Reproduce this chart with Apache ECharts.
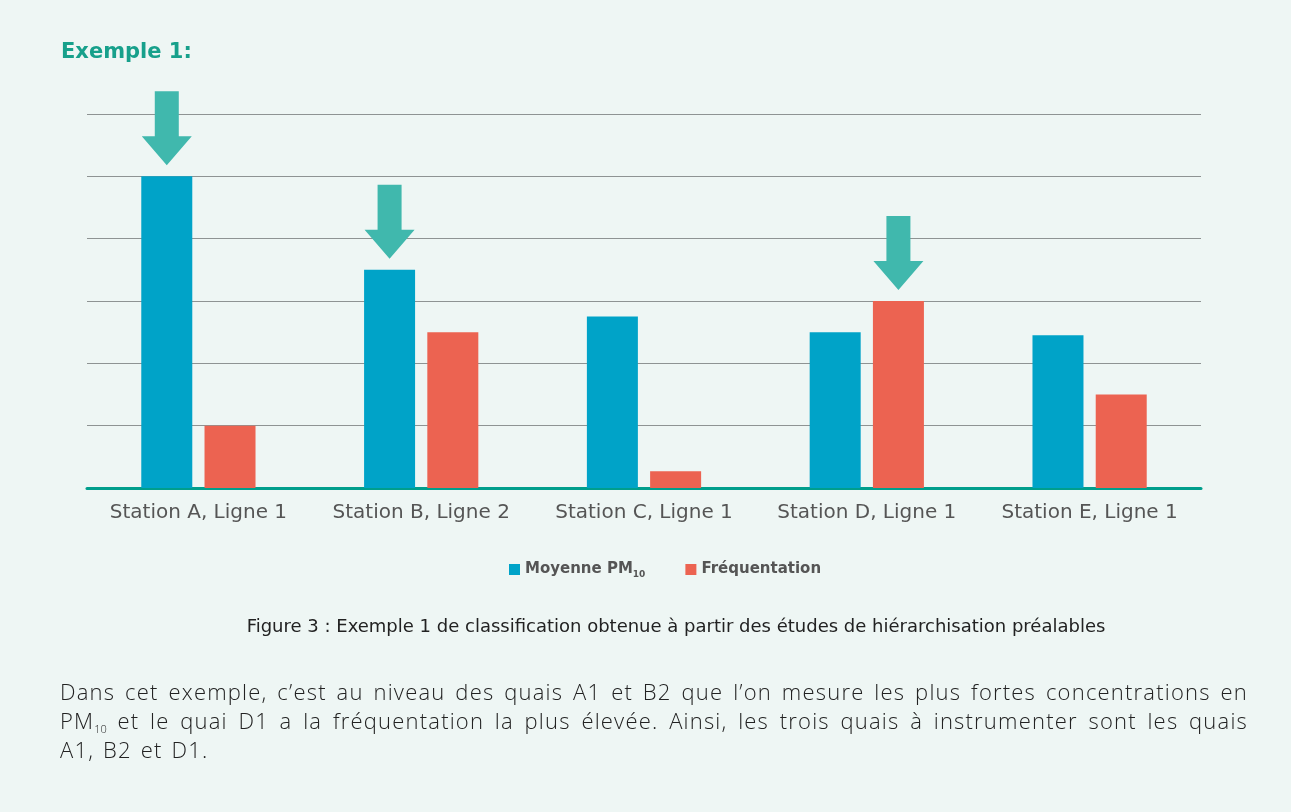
<!DOCTYPE html>
<html>
<head>
<meta charset="utf-8">
<script src="https://cdn.jsdelivr.net/npm/echarts@6/dist/echarts.min.js"></script>
<style>
  html, body { margin:0; padding:0; background:#eef6f4; }
  #wrap { position:relative; width:1291px; height:812px; }
  #chart { position:absolute; top:0; left:0; width:1291px; height:812px; }
  #texte { position:absolute; left:60px; top:677px; width:1188px;
    font-family:"Open Sans", sans-serif; font-weight:300; font-size:22px; letter-spacing:1.2px; word-spacing:2px;
    color:#222; line-height:29px; }
  #texte div { white-space:nowrap; }
  #texte .j { text-align:justify; text-align-last:justify; white-space:normal; }
  #texte sub { font-size:11px; vertical-align:-4px; line-height:0; letter-spacing:0; }
</style>
</head>
<body>
<div id="wrap">
  <div id="chart"></div>
  <div id="texte">
    <div class="j">Dans cet exemple, c’est au niveau des quais A1 et B2 que l’on mesure les plus fortes concentrations en</div>
    <div class="j">PM<sub>10</sub> et le quai D1 a la fréquentation la plus élevée. Ainsi, les trois quais à instrumenter sont les quais</div>
    <div>A1, B2 et D1.</div>
  </div>
</div>
<script>
// donnees
const stations = ['Station A, Ligne 1', 'Station B, Ligne 2', 'Station C, Ligne 1', 'Station D, Ligne 1', 'Station E, Ligne 1']
const moyennePM10 = [5, 3.5, 2.75, 2.5, 2.45]
const frequentation = [1, 2.5, 0.27, 3, 1.5]
// quais a instrumenter (fleches)
const flechesPM = [[stations[0], 5], [stations[1], 3.5]]
const flechesFreq = [[stations[3], 3]]

const arrow = 'path://M13,0 L37,0 L37,45 L50,45 L25,74 L0,45 L13,45 Z'
const markArrows = (pts) => ({
  symbol: arrow,
  symbolSize: [50, 74],
  symbolOffset: [0, -48],
  itemStyle: { color: '#40b8ad' },
  label: { show: false },
  silent: true,
  data: pts.map(p => ({ coord: p }))
})

let myChart = echarts.init(document.getElementById('chart'))
myChart.setOption({
  backgroundColor: '#eef6f4',
  animation: false,
  title: {
    text: 'Exemple 1:',
    left: 56, top: 37,
    textStyle: { color: '#17a08b', fontSize: 21, fontWeight: 'bold', fontFamily: 'DejaVu Sans' }
  },
  legend: {
    left: 509, top: 562, padding: 0,
    icon: 'rect', itemWidth: 11, itemHeight: 11, itemGap: 40,
    data: ['Moyenne PM10', 'Fréquentation'],
    formatter: n => n === 'Moyenne PM10' ? 'Moyenne PM{sub|10}' : n,
    textStyle: {
      color: '#555', fontSize: 15, fontWeight: 'bold', fontFamily: 'DejaVu Sans',
      rich: { sub: { fontSize: 9, fontWeight: 'bold', fontFamily: 'DejaVu Sans', color: '#555', padding: [10, 0, 0, 0] } }
    }
  },
  grid: { left: 87, right: 90, top: 114, bottom: 324 },
  xAxis: {
    type: 'category',
    data: stations,
    axisTick: { show: false },
    axisLine: { lineStyle: { color: '#009e8c', width: 3 } },
    axisLabel: { interval: 0, color: '#555', fontSize: 20, fontFamily: 'DejaVu Sans', margin: 15 }
  },
  yAxis: {
    type: 'value', min: 0, max: 6, interval: 1,
    axisLabel: { show: false },
    axisLine: { show: false },
    axisTick: { show: false },
    splitLine: { lineStyle: { color: '#8e9393', width: 1.2 } }
  },
  series: [
    {
      name: 'Moyenne PM10', type: 'bar', data: moyennePM10,
      barWidth: 51, barGap: '24%',
      itemStyle: { color: '#00a3c8' },
      markPoint: markArrows(flechesPM)
    },
    {
      name: 'Fréquentation', type: 'bar', data: frequentation,
      barWidth: 51, barGap: '24%',
      itemStyle: { color: '#ec6351' },
      markPoint: markArrows(flechesFreq)
    }
  ],
  graphic: [
    {
      type: 'text', x: 676, y: 627,
      style: {
        text: 'Figure 3 : Exemple 1 de classification obtenue à partir des études de hiérarchisation préalables',
        align: 'center', verticalAlign: 'middle',
        fill: '#222', fontSize: 18, fontFamily: 'DejaVu Sans'
      }
    }
  ]
})
</script>
</body>
</html>
